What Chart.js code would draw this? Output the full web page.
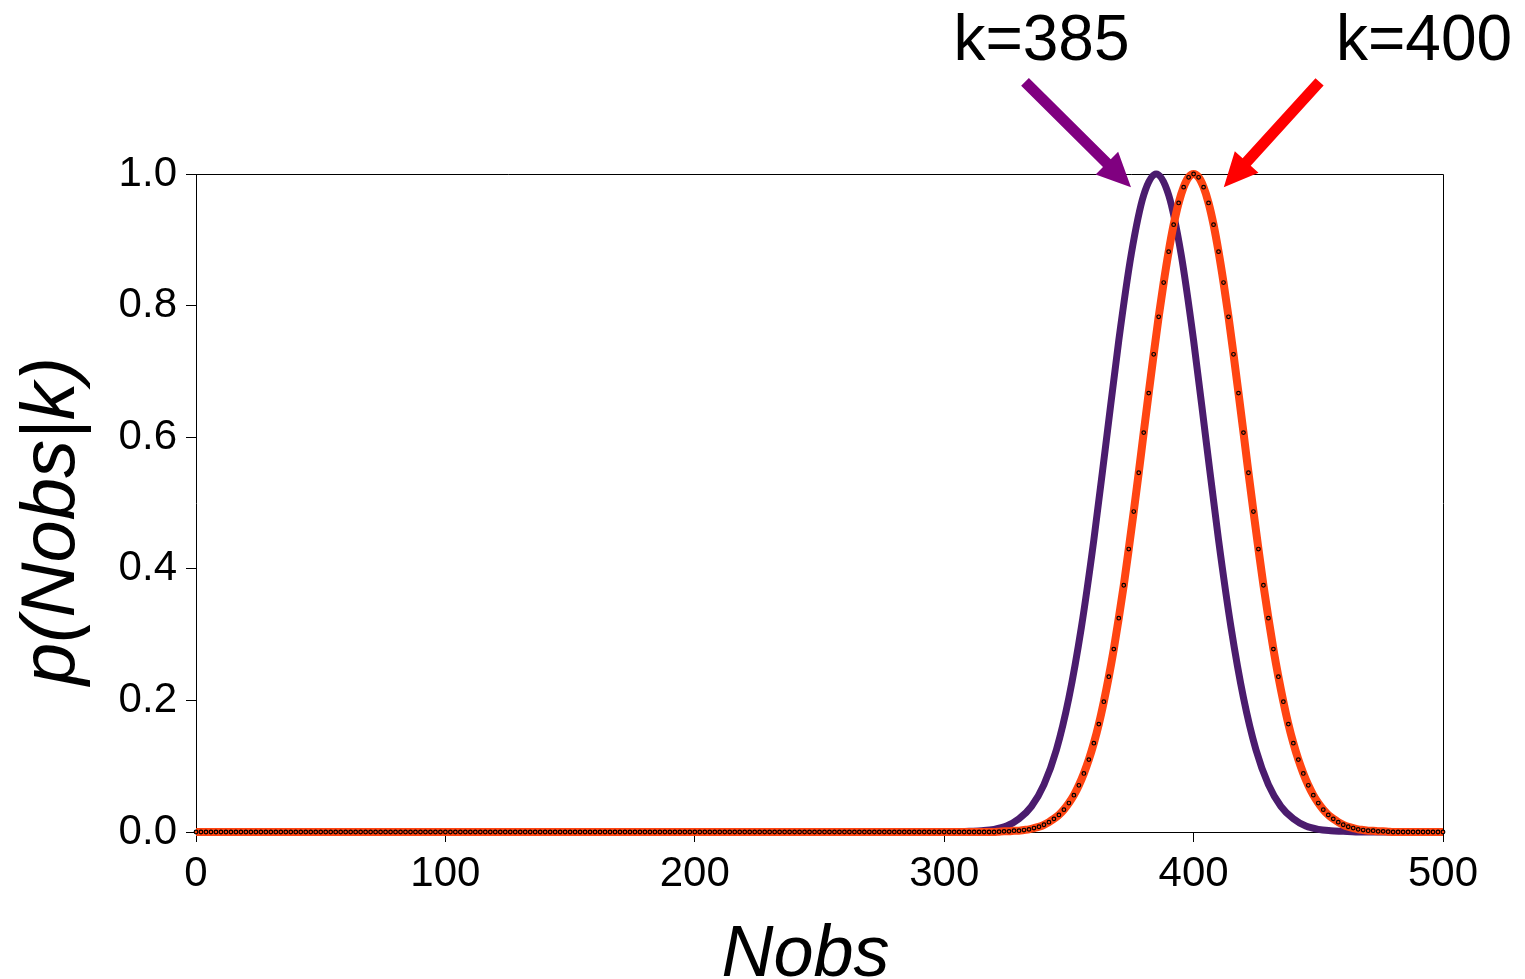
<!DOCTYPE html>
<html lang="en">
<head>
    <meta charset="UTF-8">
    <title>p(Nobs|k)</title>
    <script src="https://cdn.jsdelivr.net/npm/chart.js"></script>
    <style>
        body { margin: 0; background: #fff; }
        canvas { display: block; }
    </style>
</head>
<body>
    <canvas id="poissonChart" width="1525" height="979"></canvas>
    <script>
        // k=400 curve, one point every 2 counts (the dotted one)
        const nobsOrange = [
            0,2,4,6,8,10,12,14,16,18,20,22,24,26,28,30,32,34,36,38,
            40,42,44,46,48,50,52,54,56,58,60,62,64,66,68,70,72,74,76,78,
            80,82,84,86,88,90,92,94,96,98,100,102,104,106,108,110,112,114,116,118,
            120,122,124,126,128,130,132,134,136,138,140,142,144,146,148,150,152,154,156,158,
            160,162,164,166,168,170,172,174,176,178,180,182,184,186,188,190,192,194,196,198,
            200,202,204,206,208,210,212,214,216,218,220,222,224,226,228,230,232,234,236,238,
            240,242,244,246,248,250,252,254,256,258,260,262,264,266,268,270,272,274,276,278,
            280,282,284,286,288,290,292,294,296,298,300,302,304,306,308,310,312,314,316,318,
            320,322,324,326,328,330,332,334,336,338,340,342,344,346,348,350,352,354,356,358,
            360,362,364,366,368,370,372,374,376,378,380,382,384,386,388,390,392,394,396,398,
            400,402,404,406,408,410,412,414,416,418,420,422,424,426,428,430,432,434,436,438,
            440,442,444,446,448,450,452,454,456,458,460,462,464,466,468,470,472,474,476,478,
            480,482,484,486,488,490,492,494,496,498,500
        ];
        const pOrange = [
            0,0,0,0,0,0,0,0,0,0,0,0,0,0,0,0,0,0,0,0,
            0,0,0,0,0,0,0,0,0,0,0,0,0,0,0,0,0,0,0,0,
            0,0,0,0,0,0,0,0,0,0,0,0,0,0,0,0,0,0,0,0,
            0,0,0,0,0,0,0,0,0,0,0,0,0,0,0,0,0,0,0,0,
            0,0,0,0,0,0,0,0,0,0,0,0,0,0,0,0,0,0,0,0,
            0,0,0,0,0,0,0,0,0,0,0,0,0,0,0,0,0,0,0,0,
            0,0,0,0,0,0,0,0,0,0,0,0,0,0,0,0,0,0,0,0,
            0,0,0,0,0,0,0,0,0,0,0,0,0,0,0,0,0,0,0,0,
            0,0.0005,0.001,0.001,0.002,0.002,0.003,0.004,0.006,0.008,0.011,0.015,0.020,0.026,0.034,0.044,0.056,0.071,0.089,0.110,
            0.135,0.164,0.198,0.236,0.278,0.325,0.375,0.430,0.487,0.546,0.607,0.667,0.726,0.783,0.835,0.882,0.923,0.956,0.980,0.995,
            1.000,0.995,0.980,0.956,0.923,0.882,0.835,0.783,0.726,0.667,0.607,0.546,0.487,0.430,0.375,0.325,0.278,0.236,0.198,0.164,
            0.135,0.110,0.089,0.071,0.056,0.044,0.034,0.026,0.020,0.015,0.011,0.008,0.006,0.004,0.003,0.002,0.002,0.001,0.001,0.0005,
            0,0,0,0,0,0,0,0,0,0,0
        ];

        // k=385 curve, solid line
        const nobsPurple = [
            0,5,10,15,20,25,30,35,40,45,50,55,60,65,70,75,80,85,90,95,
            100,105,110,115,120,125,130,135,140,145,150,155,160,165,170,175,180,185,190,195,
            200,205,210,215,220,225,230,235,240,245,250,255,260,265,270,275,280,285,290,295,
            300,305,310,315,320,325,330,335,340,345,350,355,360,365,370,375,380,385,390,395,
            400,405,410,415,420,425,430,435,440,445,450,455,460,465,470,475,480,485,490,495,
            500
        ];
        const pPurple = [
            0,0,0,0,0,0,0,0,0,0,0,0,0,0,0,0,0,0,0,0,
            0,0,0,0,0,0,0,0,0,0,0,0,0,0,0,0,0,0,0,0,
            0,0,0,0,0,0,0,0,0,0,0,0,0,0,0,0,0,0,0,0,
            0,0,0.001,0.002,0.004,0.009,0.020,0.039,0.072,0.125,0.204,0.311,0.444,0.595,0.747,0.878,0.968,1.000,0.968,0.878,
            0.747,0.595,0.444,0.311,0.204,0.125,0.072,0.039,0.020,0.009,0.004,0.002,0.001,0,0,0,0,0,0,0,
            0
        ];

        const xTicks = [0, 100, 200, 300, 400, 500];
        const yTicks = [0, 0.2, 0.4, 0.6, 0.8, 1.0];

        const xTitle = "Nobs";
        const yTitle = "p(Nobs|k)";

        // labels and arrows above the plot, in data units
        const annotText = ["k=385", "k=400"];
        const annotTextX = [339, 492.4];
        const annotTextY = 1.173;
        const arrowTail = [[332.4, 1.140], [450.5, 1.140]];
        const arrowTip = [[374.9, 0.980], [412.1, 0.980]];
        const arrowColors = ["#800080", "#ff0000"];

        const FONT = "'Liberation Sans', Arial, Helvetica, sans-serif";

        function toPoints(xs, ys) {
            return xs.map((x, i) => ({x: x, y: ys[i]}));
        }

        function drawArrow(ctx, x0, y0, x1, y1, color) {
            const ang = Math.atan2(y1 - y0, x1 - x0);
            const headLen = 34;
            const headHalf = 16;
            const shaftHalf = 5.5;
            const bx = x1 - headLen * Math.cos(ang);
            const by = y1 - headLen * Math.sin(ang);
            const nx = -Math.sin(ang), ny = Math.cos(ang);
            ctx.save();
            ctx.fillStyle = color;
            ctx.beginPath();
            ctx.moveTo(x0 + nx * shaftHalf, y0 + ny * shaftHalf);
            ctx.lineTo(bx + nx * shaftHalf, by + ny * shaftHalf);
            ctx.lineTo(bx + nx * headHalf, by + ny * headHalf);
            ctx.lineTo(x1, y1);
            ctx.lineTo(bx - nx * headHalf, by - ny * headHalf);
            ctx.lineTo(bx - nx * shaftHalf, by - ny * shaftHalf);
            ctx.lineTo(x0 - nx * shaftHalf, y0 - ny * shaftHalf);
            ctx.closePath();
            ctx.fill();
            ctx.restore();
        }

        const framePlugin = {
            id: "frame",
            beforeDatasetsDraw(chart) {
                const a = chart.chartArea;
                const ctx = chart.ctx;
                ctx.save();
                ctx.strokeStyle = "#000";
                ctx.lineWidth = 1;
                ctx.beginPath();
                ctx.moveTo(Math.round(a.left) + 0.5, Math.round(a.top) + 0.5);
                ctx.lineTo(Math.round(a.right) + 0.5, Math.round(a.top) + 0.5);
                ctx.lineTo(Math.round(a.right) + 0.5, Math.round(a.bottom) + 0.5);
                ctx.stroke();
                ctx.restore();
            },
            afterDraw(chart) {
                const ctx = chart.ctx;
                const xs = chart.scales.x, ys = chart.scales.y;
                const a = chart.chartArea;

                // axis titles
                ctx.save();
                ctx.fillStyle = "#000";
                ctx.font = "italic 72px " + FONT;
                ctx.textAlign = "center";
                ctx.textBaseline = "alphabetic";
                ctx.fillText(xTitle, (a.left + a.right) / 2 - 14, 976);
                ctx.font = "italic 76px " + FONT;
                ctx.translate(74, (a.top + a.bottom) / 2 + 18);
                ctx.rotate(-Math.PI / 2);
                ctx.fillText(yTitle, 0, 0);
                ctx.restore();

                // k labels + arrows
                ctx.save();
                ctx.fillStyle = "#000";
                ctx.font = "64px " + FONT;
                ctx.textAlign = "center";
                ctx.textBaseline = "alphabetic";
                for (let i = 0; i < annotText.length; i++) {
                    ctx.fillText(annotText[i], xs.getPixelForValue(annotTextX[i]), ys.getPixelForValue(annotTextY));
                    drawArrow(ctx,
                        xs.getPixelForValue(arrowTail[i][0]), ys.getPixelForValue(arrowTail[i][1]),
                        xs.getPixelForValue(arrowTip[i][0]), ys.getPixelForValue(arrowTip[i][1]),
                        arrowColors[i]);
                }
                ctx.restore();
            }
        };

        const ctx = document.getElementById("poissonChart").getContext("2d");
        new Chart(ctx, {
            type: "line",
            data: {
                datasets: [
                    {
                        label: "k=400",
                        data: toPoints(nobsOrange, pOrange),
                        borderColor: "rgb(255,69,18)",
                        borderWidth: 8,
                        pointRadius: 1.8,
                        pointBorderWidth: 1.2,
                        pointBorderColor: "#000",
                        pointBackgroundColor: "rgb(255,69,18)",
                        cubicInterpolationMode: "monotone",
                        clip: false,
                        order: 0
                    },
                    {
                        label: "k=385",
                        data: toPoints(nobsPurple, pPurple),
                        borderColor: "rgb(75,28,110)",
                        borderWidth: 7,
                        pointRadius: 0,
                        cubicInterpolationMode: "monotone",
                        clip: false,
                        order: 1
                    }
                ]
            },
            options: {
                responsive: false,
                animation: false,
                devicePixelRatio: 1,
                layout: { padding: { left: 0, right: 82, top: 174, bottom: 0 } },
                plugins: {
                    legend: { display: false },
                    tooltip: { enabled: false }
                },
                scales: {
                    x: {
                        type: "linear",
                        min: 0,
                        max: 500,
                        afterFit(scale) { scale.height = 147; },
                        afterBuildTicks(scale) { scale.ticks = xTicks.map(v => ({value: v})); },
                        grid: { drawOnChartArea: false, drawTicks: true, tickLength: 10, color: "#000", tickWidth: 1 },
                        border: { display: true, color: "#000", width: 1 },
                        ticks: {
                            color: "#000",
                            font: { family: FONT, size: 42 },
                            padding: 7,
                            maxRotation: 0,
                            autoSkip: false
                        }
                    },
                    y: {
                        type: "linear",
                        min: 0,
                        max: 1,
                        afterFit(scale) { scale.width = 196; },
                        afterBuildTicks(scale) { scale.ticks = yTicks.map(v => ({value: v})); },
                        grid: { drawOnChartArea: false, drawTicks: true, tickLength: 10, color: "#000", tickWidth: 1 },
                        border: { display: true, color: "#000", width: 1 },
                        ticks: {
                            color: "#000",
                            font: { family: FONT, size: 42 },
                            padding: 9,
                            callback: (v) => Number(v).toFixed(1)
                        }
                    }
                }
            },
            plugins: [framePlugin]
        });
    </script>
</body>
</html>
